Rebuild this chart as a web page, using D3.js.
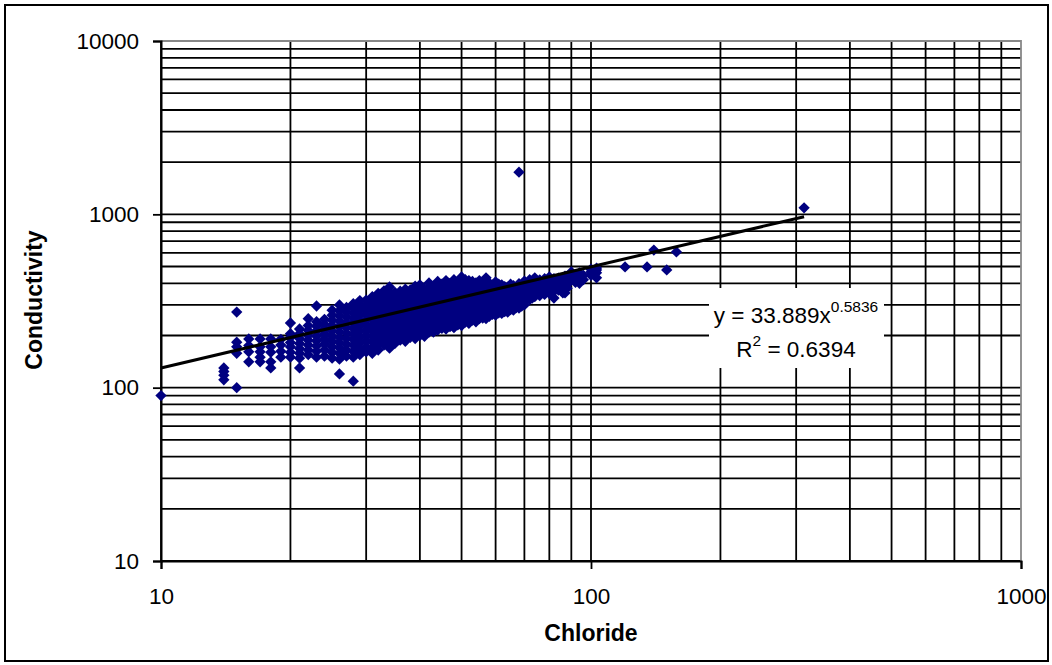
<!DOCTYPE html>
<html>
<head>
<meta charset="utf-8">
<script src="https://cdn.jsdelivr.net/npm/d3@7"></script>
<style>
  body { margin: 0; background: #fff; }
  svg { display: block; font-family: "Liberation Sans", Arial, sans-serif; }
</style>
</head>
<body>
<svg id="chart" width="1052" height="665"></svg>
<script>
// chloride value -> conductivity readings at that chloride level
var samples = [
  [10, [90]],
  [14, [111, 118, 124, 130]],
  [15, [100, 158, 172, 183, 273]],
  [16, [141, 161, 175, 191]],
  [17, [141, 150, 161, 172, 191]],
  [18, [130, 141, 160, 172, 191]],
  [19, [150, 162, 176, 190]],
  [20, [150, 160, 172, 182, 195, 205, 236]],
  [21, [130, 148, 158, 168, 180, 192, 205, 218]],
  [22, [155, 165, 176, 188, 200, 214, 228, 250]],
  [23, [150, 162, 174, 186, 198, 212, 226, 240, 296]],
  [24, [152, 165, 178, 190, 204, 218, 232, 248]],
  [25, [148, 160, 172, 185, 198, 212, 228, 245, 262, 280]],
  [26, [120, 146, 158, 170, 182, 195, 210, 225, 242, 260, 278, 300]],
  [27, [152, 165, 178, 192, 206, 222, 238, 255, 272, 290]],
  [28, [109, 150, 162, 176, 190, 204, 220, 236, 252, 270, 288, 305]],
  [29, [155, 168, 182, 196, 212, 228, 244, 262, 280, 298, 318]],
  [30, [161, 172, 186, 200, 215, 230, 246, 264, 282, 300, 320]],
  [31, [158, 170, 184, 198, 213, 228, 245, 262, 280, 298, 316, 335]],
  [32, [165, 178, 192, 206, 222, 238, 255, 272, 290, 310, 330, 350]],
  [33, [176, 188, 202, 216, 232, 248, 265, 282, 300, 320, 340, 362]],
  [34, [169, 182, 195, 210, 225, 242, 258, 276, 294, 314, 334, 355, 381]],
  [35, [180, 194, 208, 224, 240, 256, 274, 292, 312, 332, 354]],
  [36, [188, 200, 215, 230, 246, 262, 280, 298, 318, 338, 360]],
  [37, [185, 198, 212, 228, 244, 260, 278, 296, 316, 336, 358, 370]],
  [38, [195, 208, 222, 238, 254, 270, 288, 306, 325, 345, 366]],
  [39, [192, 205, 220, 235, 250, 268, 285, 304, 322, 342, 362, 385]],
  [40, [200, 212, 226, 242, 258, 275, 292, 310, 330, 350, 372, 392]],
  [41, [198, 210, 224, 240, 256, 272, 290, 308, 328, 348, 368]],
  [42, [209, 220, 235, 250, 266, 282, 300, 318, 338, 358, 380, 402]],
  [43, [209, 222, 238, 254, 270, 286, 304, 322, 342, 362, 385]],
  [44, [215, 228, 242, 258, 274, 290, 308, 326, 346, 366, 388, 410]],
  [45, [220, 234, 248, 264, 280, 296, 314, 332, 352, 372, 395]],
  [46, [218, 230, 245, 260, 276, 292, 310, 328, 348, 368, 390, 415]],
  [47, [225, 238, 252, 268, 284, 300, 318, 336, 356, 376, 400]],
  [48, [222, 235, 250, 265, 281, 298, 315, 334, 354, 374, 396, 420]],
  [49, [230, 244, 258, 274, 290, 306, 324, 342, 362, 384, 408]],
  [50, [228, 240, 255, 270, 286, 302, 320, 340, 360, 380, 405, 435]],
  [51, [239, 252, 268, 284, 300, 318, 336, 356, 376, 398, 420]],
  [52, [235, 248, 262, 278, 294, 312, 330, 350, 370, 392, 415]],
  [53, [245, 258, 274, 290, 308, 326, 345, 365, 386, 410]],
  [54, [240, 254, 270, 286, 302, 320, 340, 360, 380, 402]],
  [55, [250, 264, 280, 296, 314, 332, 350, 370, 392, 415]],
  [56, [252, 266, 282, 298, 316, 335, 354, 375, 398]],
  [57, [250, 262, 278, 294, 312, 330, 350, 370, 392, 430]],
  [58, [258, 272, 288, 305, 322, 340, 360, 380, 402]],
  [59, [265, 280, 296, 313, 330, 348, 368, 390]],
  [60, [262, 276, 292, 308, 326, 345, 365, 386, 408]],
  [61, [270, 285, 300, 318, 336, 355, 375, 396]],
  [62, [268, 282, 298, 315, 333, 352, 372, 392]],
  [63, [275, 290, 306, 324, 342, 362, 382]],
  [64, [273, 288, 304, 322, 340, 360, 380]],
  [65, [282, 298, 315, 333, 352, 372, 395]],
  [66, [280, 295, 312, 330, 348, 368, 388]],
  [67, [290, 306, 324, 342, 360, 380]],
  [68, [288, 304, 322, 340, 360, 378, 398, 1750]],
  [69, [296, 312, 330, 348, 366, 385]],
  [70, [300, 318, 336, 354, 372, 392, 412]],
  [72, [322, 340, 358, 378, 398, 420]],
  [73, [329, 345, 362, 380, 400]],
  [74, [335, 352, 370, 390, 410, 430]],
  [76, [340, 358, 376, 396, 418]],
  [78, [345, 362, 380, 400, 425]],
  [80, [350, 368, 388, 410, 435]],
  [82, [329, 360, 380, 402, 425]],
  [84, [365, 385, 405, 428]],
  [86, [352, 380, 400, 420]],
  [87, [352, 418, 440]],
  [88, [375, 395, 415, 438]],
  [90, [418, 430, 448, 465]],
  [92, [405, 425, 445]],
  [94, [400, 430, 447, 460]],
  [96, [420, 445]],
  [100, [445, 465, 482]],
  [103, [430, 460, 478, 490]],
  [120, [497]],
  [135, [497]],
  [140, [622]],
  [150, [478]],
  [158, [607]],
  [313, [1090]]
];

var xTicks = [10, 100, 1000];
var yTicks = [10, 100, 1000, 10000];

// power trendline fitted in the source spreadsheet
var trendA = 33.889, trendB = 0.5836, trendR2 = 0.6394;

var points = [];
samples.forEach(function (s) {
    s[1].forEach(function (v) { points.push({ cl: s[0], cond: v }); });
});

var svg = d3.select('#chart');
var plotLeft = 161, plotTop = 41, plotRight = 1021, plotBottom = 561;

var x = d3.scaleLog().domain([10, 1000]).range([plotLeft, plotRight]);
var y = d3.scaleLog().domain([10, 10000]).range([plotBottom, plotTop]);

// outer chart border
svg.append('rect')
    .attr('x', 5).attr('y', 5).attr('width', 1043).attr('height', 656)
    .attr('fill', '#fff').attr('stroke', '#000').attr('stroke-width', 2);

var grid = svg.append('g').attr('stroke', '#000').attr('stroke-width', 1.8);
grid.selectAll('line.v').data(x.ticks().filter(function (d) { return d < 1000; }))
    .enter().append('line')
    .attr('x1', function (d) { return x(d); }).attr('x2', function (d) { return x(d); })
    .attr('y1', plotTop).attr('y2', plotBottom);
grid.selectAll('line.h').data(y.ticks().filter(function (d) { return d < 10000; }))
    .enter().append('line')
    .attr('x1', plotLeft).attr('x2', plotRight)
    .attr('y1', function (d) { return y(d); }).attr('y2', function (d) { return y(d); });

// plot area border: grey on top and right, black axes on left and bottom
svg.append('path')
    .attr('d', 'M' + plotLeft + ',' + plotTop + 'H' + plotRight + 'V' + plotBottom)
    .attr('fill', 'none').attr('stroke', '#888').attr('stroke-width', 1.8);

var yAxis = svg.append('g').attr('transform', 'translate(' + plotLeft + ',0)')
    .call(d3.axisLeft(y).tickValues(yTicks).tickSize(8).tickPadding(14).tickFormat(d3.format('d')));
var xAxis = svg.append('g').attr('transform', 'translate(0,' + plotBottom + ')')
    .call(d3.axisBottom(x).tickValues(xTicks).tickSize(8).tickPadding(19).tickFormat(d3.format('d')));
[xAxis, yAxis].forEach(function (a) {
    a.select('.domain').attr('stroke', '#000').attr('stroke-width', 2);
    a.selectAll('.tick line').attr('stroke', '#000').attr('stroke-width', 1.8);
    a.selectAll('text').attr('fill', '#000').style('font-size', '22.5px')
        .style('font-family', '"Liberation Sans", Arial, sans-serif');
});

var diamond = d3.symbol().type(d3.symbolSquare).size(64);
svg.append('g').selectAll('path').data(points).enter().append('path')
    .attr('d', diamond)
    .attr('transform', function (d) { return 'translate(' + x(d.cl) + ',' + y(d.cond) + ') rotate(45)'; })
    .attr('fill', '#000080');

var xMin = d3.min(points, function (d) { return d.cl; });
var xMax = d3.max(points, function (d) { return d.cl; });
var line = d3.line()
    .x(function (d) { return x(d); })
    .y(function (d) { return y(trendA * Math.pow(d, trendB)); });
svg.append('path').datum([xMin, xMax])
    .attr('d', line).attr('fill', 'none').attr('stroke', '#000').attr('stroke-width', 3);

// trendline equation label
svg.append('rect').attr('x', 709).attr('y', 288).attr('width', 175).attr('height', 80).attr('fill', '#fff');
var eq = svg.append('text').attr('x', 796).attr('y', 323).attr('text-anchor', 'middle')
    .style('font-size', '22.5px').attr('fill', '#000');
eq.append('tspan').text('y = ' + trendA + 'x');
eq.append('tspan').attr('dy', -11).style('font-size', '15.5px').text(trendB);
var r2 = svg.append('text').attr('x', 796).attr('y', 357).attr('text-anchor', 'middle')
    .style('font-size', '22.5px').attr('fill', '#000');
r2.append('tspan').text('R');
r2.append('tspan').attr('dy', -11).style('font-size', '15.5px').text('2');
r2.append('tspan').attr('dy', 11).text(' = ' + trendR2);

svg.append('text').attr('x', 591).attr('y', 641).attr('text-anchor', 'middle')
    .style('font-size', '23px').style('font-weight', 'bold').text('Chloride');
svg.append('text').attr('transform', 'translate(42,300) rotate(-90)').attr('text-anchor', 'middle')
    .style('font-size', '23px').style('font-weight', 'bold').text('Conductivity');
</script>
</body>
</html>
